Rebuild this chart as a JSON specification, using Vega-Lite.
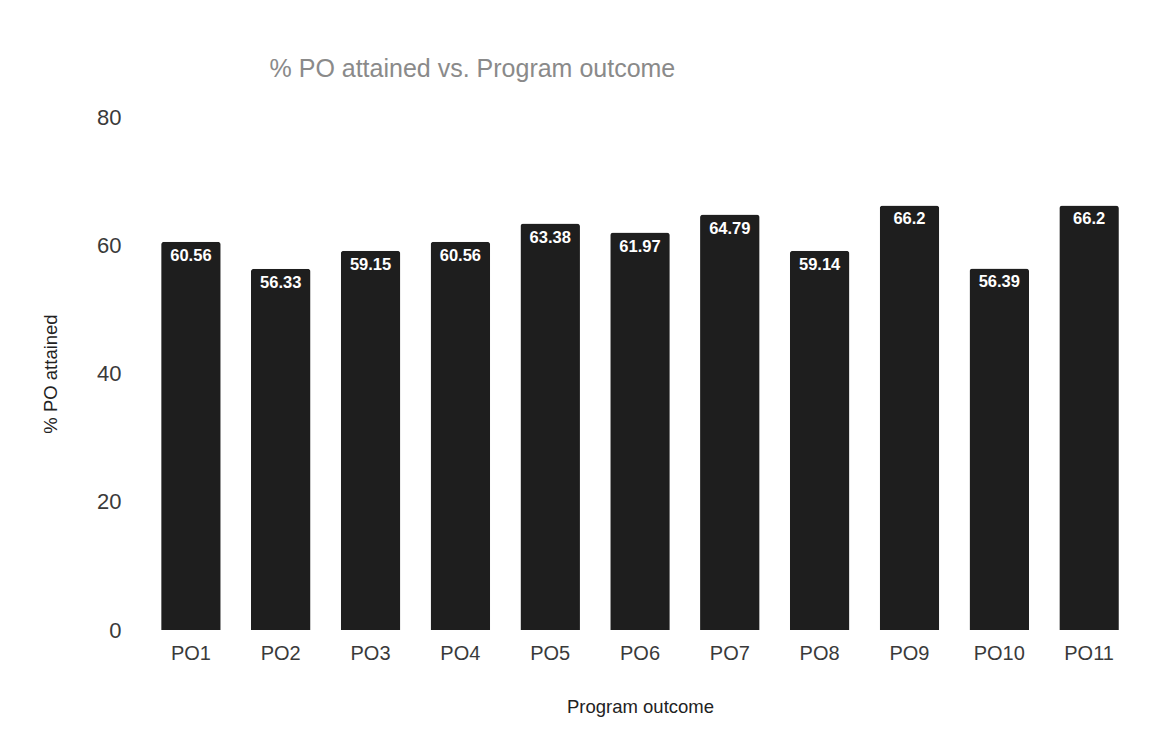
{
  "$schema": "https://vega.github.io/schema/vega-lite/v6.json",
  "autosize": {"type": "none"},
  "padding": {"left": 146, "top": 117, "right": 34, "bottom": 121},
  "width": 988,
  "height": 513,
  "background": "white",
  "config": {"view": {"stroke": null}},
  "title": {
    "text": "% PO attained vs. Program outcome",
    "anchor": "start",
    "dx": 228,
    "dy": 36,
    "offset": 40,
    "baseline": "alphabetic",
    "font": "Liberation Sans, Arial",
    "fontSize": 25,
    "fontWeight": "normal",
    "color": "#8a8a8a"
  },
  "data": {
    "values": [
      {"po": "PO1", "value": 60.56},
      {"po": "PO2", "value": 56.33},
      {"po": "PO3", "value": 59.15},
      {"po": "PO4", "value": 60.56},
      {"po": "PO5", "value": 63.38},
      {"po": "PO6", "value": 61.97},
      {"po": "PO7", "value": 64.79},
      {"po": "PO8", "value": 59.14},
      {"po": "PO9", "value": 66.2},
      {"po": "PO10", "value": 56.39},
      {"po": "PO11", "value": 66.2}
    ]
  },
  "encoding": {
    "x": {
      "field": "po",
      "type": "nominal",
      "sort": null,
      "scale": {"paddingInner": 0.337, "paddingOuter": 0.1685},
      "axis": {
        "title": "Program outcome",
        "labelAngle": 0,
        "domain": false,
        "ticks": false,
        "labelPadding": 13,
        "labelFont": "Liberation Sans, Arial",
        "labelFontSize": 20,
        "labelColor": "#3a3a3a",
        "titleFont": "Liberation Sans, Arial",
        "titleFontSize": 18.5,
        "titleFontWeight": "normal",
        "titleColor": "#222222",
        "titlePadding": 34
      }
    },
    "y": {
      "field": "value",
      "type": "quantitative",
      "scale": {"domain": [0, 80]},
      "axis": {
        "title": "% PO attained",
        "values": [0, 20, 40, 60, 80],
        "grid": false,
        "domain": false,
        "ticks": false,
        "labelPadding": 25,
        "labelFont": "Liberation Sans, Arial",
        "labelFontSize": 22,
        "labelColor": "#3a3a3a",
        "titleFont": "Liberation Sans, Arial",
        "titleFontSize": 18.5,
        "titleFontWeight": "normal",
        "titleColor": "#222222",
        "titlePadding": 36
      }
    }
  },
  "layer": [
    {
      "mark": {"type": "bar", "color": "#1e1e1e", "cornerRadiusTopLeft": 3, "cornerRadiusTopRight": 3}
    },
    {
      "mark": {
        "type": "text",
        "baseline": "top",
        "dy": 6,
        "color": "white",
        "font": "Liberation Sans, Arial",
        "fontSize": 16.5,
        "fontWeight": "bold"
      },
      "encoding": {"text": {"field": "value", "type": "quantitative"}}
    }
  ]
}
